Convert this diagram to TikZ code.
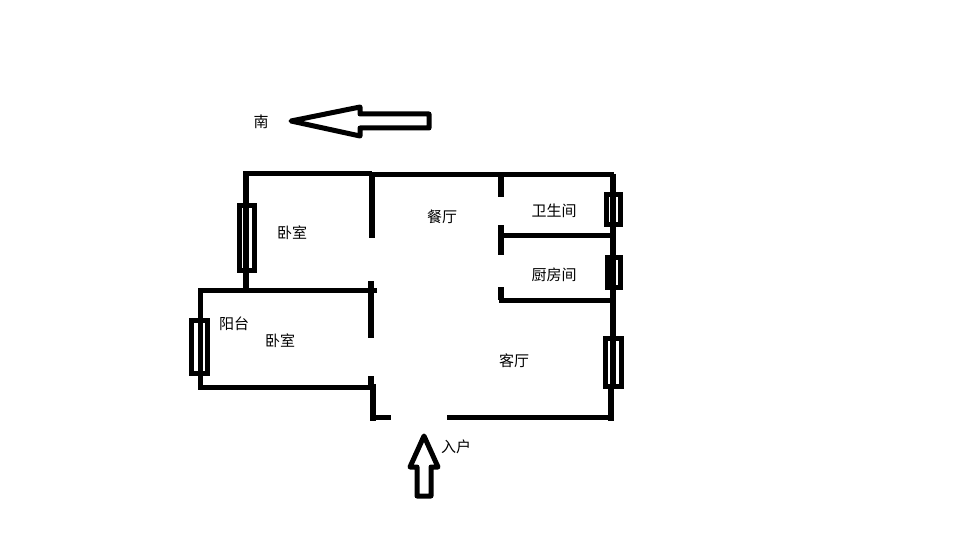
\documentclass[tikz,border=0pt]{standalone}
\usepackage{fontspec}
\newfontfamily\cjk{Noto Sans CJK SC}
\tikzset{
    wall/.style={black, line width=5.5pt},
    thickwall/.style={black, line width=6.5pt},
    window/.style={black, line width=5pt},
    outline/.style={black, line width=5pt, line join=round},
    room/.style={font=\cjk\fontsize{15}{17}\selectfont, inner sep=0pt}
}
\begin{document}
\begin{tikzpicture}[x=1pt, y=-1pt]
        \useasboundingbox (0,0) rectangle (960,540);

        % Outer walls
        \draw[wall] (246,292) -- (246,173.5) -- (372,173.5);
        \draw[wall] (372,174.5) -- (614,174.5);
        \draw[wall] (613,174) -- (613,388);
        \draw[wall] (611,388) -- (611,421);
        \draw[wall] (447,417.5) -- (611,417.5);
        \draw[wall] (373,384) -- (373,421);
        \draw[wall] (373,417.5) -- (391,417.5);

        % Balcony and lower bedroom
        \draw[wall] (377,290.5) -- (200.5,290.5) -- (200.5,387.5) -- (372,387.5);

        % Wall between bedrooms and dining room
        \draw[thickwall] (372,173) -- (372,238);
        \draw[thickwall] (371,281) -- (371,338);
        \draw[thickwall] (371,376) -- (371,388);

        % Wall of bathroom and kitchen
        \draw[wall] (501,174) -- (501,197);
        \draw[wall] (501,225) -- (501,255);
        \draw[wall] (501,287) -- (501,300);
        \draw[wall] (501,235.5) -- (613,235.5);
        \draw[wall] (499,300.5) -- (613,300.5);

        % Windows
        \draw[window] (239.5,205.5) rectangle (254.5,270.5);
        \draw[window] (191.5,320.5) rectangle (207.5,373.5);
        \draw[window] (606.5,194.5) rectangle (620.5,224.5);
        \draw[window] (607.5,257.5) rectangle (620.5,287.5);
        \draw[window] (605.5,338.5) rectangle (621.5,386.5);

        % Arrows
        \draw[outline] (291,121) -- (360,107) -- (360,114) -- (429,114) -- (429,128) -- (360,128) -- (360,136) -- cycle;
        \draw[outline] (424,436) -- (438,467) -- (431,467) -- (431,496) -- (417,496) -- (417,467) -- (410,467) -- cycle;

        % Labels
        \node[room] (south) at (261,121.5) {南};
        \node[room] (bedroomtop) at (292,232.5) {卧室};
        \node[room] (dining) at (442,216.5) {餐厅};
        \node[room] (bath) at (554,210.5) {卫生间};
        \node[room] (kitchen) at (554,274.5) {厨房间};
        \node[room] (balcony) at (234,323.5) {阳台};
        \node[room] (bedroomlow) at (280,340.5) {卧室};
        \node[room] (living) at (514,360.5) {客厅};
        \node[room] (entry) at (456,446.5) {入户};

    \end{tikzpicture}
\end{document}
